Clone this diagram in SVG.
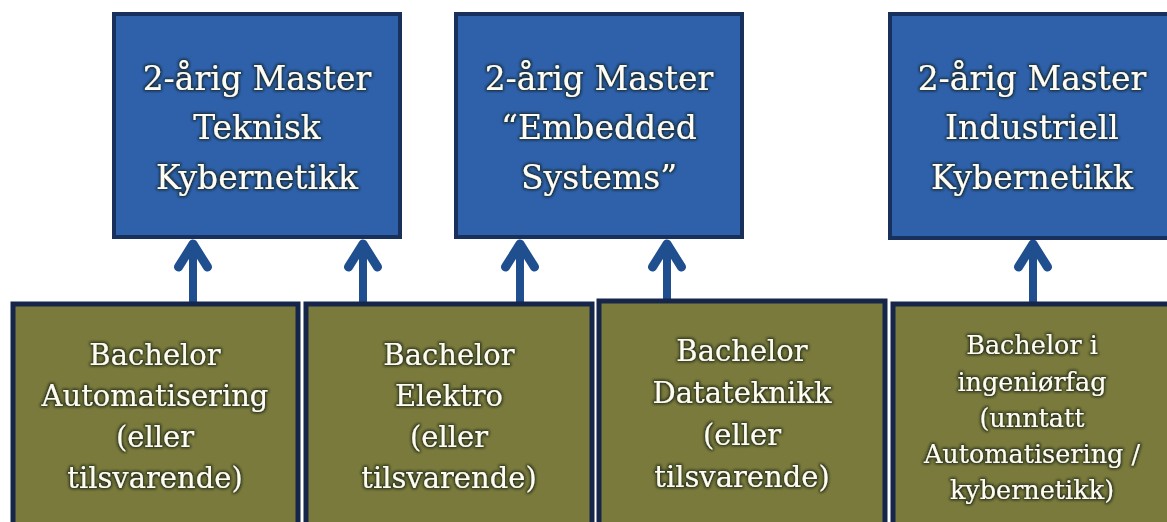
<svg xmlns="http://www.w3.org/2000/svg" width="1167" height="522" viewBox="0 0 1167 522">
  <defs>
    <filter id="halo" x="-10%" y="-30%" width="120%" height="160%">
      <feMorphology in="SourceAlpha" operator="dilate" radius="1" result="thick"/>
      <feGaussianBlur in="thick" stdDeviation="1.6" result="blur"/>
      <feFlood flood-color="#0d1a10" flood-opacity="0.85"/>
      <feComposite in2="blur" operator="in" result="shadow"/>
      <feMerge>
        <feMergeNode in="shadow"/>
        <feMergeNode in="SourceGraphic"/>
      </feMerge>
    </filter>
    <!-- open chevron head, drawn pointing along +x so orient="auto" turns it with the line -->
    <marker id="chevron" viewBox="0 0 40 40" refX="35" refY="20" markerUnits="userSpaceOnUse" markerWidth="40" markerHeight="40" orient="auto">
      <path d="M11,5.5 L34,20 L11,34.5" fill="none" stroke="#1f4f8f" stroke-width="9" stroke-linejoin="round" stroke-linecap="round"/>
    </marker>
  </defs>
  <style>
    .master rect { fill: #2f61ab; stroke: #17305c; stroke-width: 4; }
    .bachelor rect { fill: #7b7a3d; stroke: #16264a; stroke-width: 5; }
    text { font-family: "DejaVu Serif", "Liberation Serif", serif; fill: #fffdf2; text-anchor: middle; filter: url(#halo); }
    .master text { font-size: 33px; }
    .bachelor text { font-size: 29px; }
    .bachelor.small text { font-size: 25.5px; }
    .link { fill: none; stroke: #1f4f8f; stroke-width: 8; }
  </style>

  <rect width="1167" height="522" fill="#ffffff"/>

  <!-- connectors: each runs from the top edge of a bachelor box up to its master box -->
  <g id="connectors">
    <line class="link" x1="193" y1="304" x2="193" y2="243" marker-end="url(#chevron)"/>
    <line class="link" x1="363" y1="304" x2="363" y2="243" marker-end="url(#chevron)"/>
    <line class="link" x1="520" y1="304" x2="520" y2="243" marker-end="url(#chevron)"/>
    <line class="link" x1="667" y1="301" x2="667" y2="243" marker-end="url(#chevron)"/>
    <line class="link" x1="1033" y1="304" x2="1033" y2="243" marker-end="url(#chevron)"/>
  </g>

  <!-- master programmes -->
  <g id="master-teknisk" class="master">
    <rect x="114" y="14" width="286" height="223"/>
    <text x="257" y="90">2-årig Master</text>
    <text x="257" y="139">Teknisk</text>
    <text x="257" y="189">Kybernetikk</text>
  </g>
  <g id="master-embedded" class="master">
    <rect x="456" y="14" width="286" height="223"/>
    <text x="599" y="90">2-årig Master</text>
    <text x="599" y="139">“Embedded</text>
    <text x="599" y="189">Systems”</text>
  </g>
  <g id="master-industriell" class="master">
    <rect x="890" y="14" width="290" height="224"/>
    <text x="1032" y="90">2-årig Master</text>
    <text x="1032" y="139">Industriell</text>
    <text x="1032" y="189">Kybernetikk</text>
  </g>

  <!-- bachelor programmes -->
  <g id="bachelor-automatisering" class="bachelor">
    <rect x="13" y="304" width="285" height="230"/>
    <text x="155" y="365">Bachelor</text>
    <text x="155" y="406">Automatisering</text>
    <text x="155" y="447">(eller</text>
    <text x="155" y="488">tilsvarende)</text>
  </g>
  <g id="bachelor-elektro" class="bachelor">
    <rect x="306" y="304" width="286" height="230"/>
    <text x="449" y="365">Bachelor</text>
    <text x="449" y="406">Elektro</text>
    <text x="449" y="447">(eller</text>
    <text x="449" y="488">tilsvarende)</text>
  </g>
  <g id="bachelor-datateknikk" class="bachelor">
    <rect x="599" y="301" width="286" height="233"/>
    <text x="742" y="361">Bachelor</text>
    <text x="742" y="403">Datateknikk</text>
    <text x="742" y="445">(eller</text>
    <text x="742" y="487">tilsvarende)</text>
  </g>
  <g id="bachelor-ingeniorfag" class="bachelor small">
    <rect x="893" y="304" width="290" height="230"/>
    <text x="1032" y="354">Bachelor i</text>
    <text x="1032" y="391">ingeniørfag</text>
    <text x="1032" y="427">(unntatt</text>
    <text x="1032" y="463">Automatisering /</text>
    <text x="1032" y="499">kybernetikk)</text>
  </g>
</svg>
